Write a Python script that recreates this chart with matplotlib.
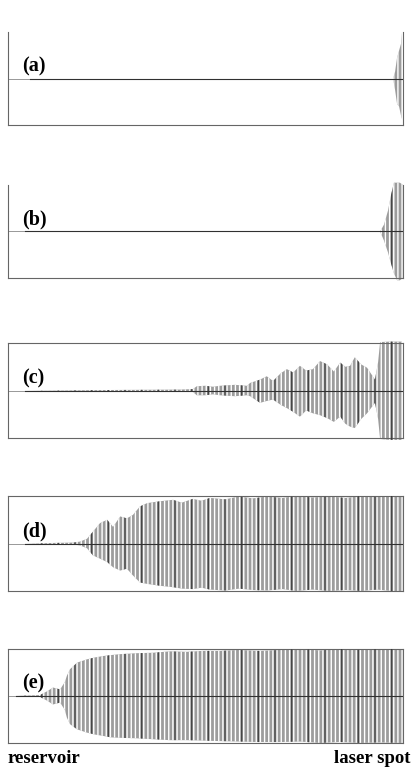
import matplotlib.pyplot as plt

# position along the channel (0 = reservoir, 100 = laser spot) and
# upper / lower envelope of the oscillation (in units of half panel height)

pos_a = [5.6, 97.5, 98.0, 98.5, 99.0, 99.5, 99.7]
up_a = [0.0, 0.0, 0.15, 0.45, 0.6, 0.75, 0.98]
lo_a = [0.0, 0.0, -0.25, -0.55, -0.6, -0.8, -0.87]

pos_b = [4.3, 94.2, 95.2, 96.2, 97.0, 97.7, 98.5, 99.2, 100.0]
up_b = [0.0, 0.0, 0.15, 0.45, 0.8, 1.05, 1.05, 1.05, 1.0]
lo_b = [0.0, 0.0, -0.2, -0.45, -0.7, -0.9, -1.05, -1.05, -1.0]

pos_c = [4.3, 43.5, 46.8, 47.8, 49.9, 51.9, 53.7, 57.4, 60.5, 61.3, 63.8,
         65.5, 67.1, 69.0, 70.6, 72.2, 73.9, 75.5, 77.2, 79.0, 80.8, 82.5,
         84.1, 85.4, 86.6, 87.8, 89.4, 90.9, 92.9, 93.7, 94.2, 96.7, 99.7]
up_c = [0.0, 0.02, 0.03, 0.09, 0.1, 0.08, 0.1, 0.12, 0.1, 0.16, 0.23,
        0.3, 0.2, 0.36, 0.45, 0.38, 0.52, 0.42, 0.45, 0.62, 0.55, 0.4,
        0.59, 0.5, 0.52, 0.7, 0.55, 0.48, 0.23, 0.6, 1.02, 1.03, 1.03]
lo_c = [0.0, -0.02, -0.03, -0.1, -0.1, -0.08, -0.1, -0.12, -0.1, -0.12, -0.26,
        -0.22, -0.19, -0.3, -0.37, -0.45, -0.55, -0.42, -0.48, -0.52, -0.58, -0.66,
        -0.55, -0.7, -0.76, -0.79, -0.6, -0.48, -0.26, -0.6, -1.02, -1.04, -1.04]

pos_d = [4.3, 16.5, 18.2, 20.0, 21.5, 23.3, 25.1, 26.6, 28.4, 30.1, 31.6,
         33.4, 35.2, 38.5, 41.8, 44.0, 46.8, 49.0, 51.1, 55.0, 58.5, 62.0,
         65.6, 69.5, 73.0, 77.0, 81.5, 85.5, 89.5, 93.5, 97.0, 100.0]
up_d = [0.0, 0.02, 0.04, 0.1, 0.25, 0.43, 0.5, 0.35, 0.57, 0.53, 0.6,
        0.78, 0.85, 0.89, 0.92, 0.86, 0.94, 0.9, 0.96, 0.93, 0.99, 0.95,
        0.99, 0.96, 1.0, 0.97, 0.99, 0.96, 1.0, 0.98, 1.0, 1.0]
lo_d = [0.0, -0.02, -0.04, -0.1, -0.25, -0.32, -0.39, -0.5, -0.57, -0.53, -0.67,
        -0.82, -0.85, -0.89, -0.92, -0.95, -0.96, -0.93, -0.97, -0.99, -0.95, -0.98,
        -0.99, -0.96, -1.0, -0.97, -1.0, -0.98, -1.0, -0.97, -1.0, -1.0]

pos_e = [2.0, 8.1, 9.9, 11.4, 13.2, 14.4, 14.9, 15.7, 17.5, 20.0, 22.0,
         24.1, 26.0, 28.4, 32.5, 36.7, 41.0, 45.3, 49.5, 53.7, 58.5, 63.5,
         68.9, 74.0, 79.0, 84.0, 89.0, 94.0, 100.0]
up_e = [0.0, 0.02, 0.1, 0.18, 0.14, 0.3, 0.43, 0.57, 0.71, 0.78, 0.82,
        0.85, 0.87, 0.89, 0.91, 0.92, 0.95, 0.94, 0.96, 0.96, 0.98, 0.96,
        0.98, 1.0, 0.97, 1.0, 0.98, 1.0, 1.0]
lo_e = [0.0, -0.02, -0.1, -0.18, -0.14, -0.3, -0.46, -0.6, -0.71, -0.78, -0.82,
        -0.85, -0.88, -0.89, -0.9, -0.92, -0.94, -0.94, -0.95, -0.96, -0.97, -0.98,
        -0.98, -0.97, -1.0, -0.98, -1.0, -0.99, -1.0]

panels = [('(a)', pos_a, up_a, lo_a),
          ('(b)', pos_b, up_b, lo_b),
          ('(c)', pos_c, up_c, lo_c),
          ('(d)', pos_d, up_d, lo_d),
          ('(e)', pos_e, up_e, lo_e)]

# axes boxes in figure fraction: bottom, height
boxes = [(0.8387, 0.120), (0.6413, 0.120), (0.4348, 0.1226),
         (0.2374, 0.1226), (0.0413, 0.1213)]

plt.rcParams['hatch.linewidth'] = 1.0
serif = ['Liberation Serif', 'DejaVu Serif']

fig = plt.figure(figsize=(4.15, 7.75), dpi=100)

for i, (label, pos, up, lo) in enumerate(panels):
    bottom, height = boxes[i]
    ax = fig.add_axes([0.0193, bottom, 0.9518, height])
    ax.set_xlim(0, 100)
    ax.set_ylim(-1, 1)
    ax.set_xticks([])
    ax.set_yticks([])
    for side in ax.spines:
        ax.spines[side].set_color('#666666')
        ax.spines[side].set_linewidth(0.8)
    if i < 2:
        ax.spines['top'].set_visible(False)

    # thin axis line through the middle
    ax.axhline(0, color='#888888', lw=0.6, zorder=1)

    # oscillation: gray stripes with white gaps
    ax.fill_between(pos, lo, up, facecolor='#9c9c9c', edgecolor='white',
                    hatch='||||', linewidth=0, clip_on=False, zorder=2)
    # a few darker stripes
    ax.fill_between(pos, lo, up, facecolor='none', edgecolor='#2a2a2a',
                    hatch='|', linewidth=0, alpha=0.75, clip_on=False, zorder=3)
    # baseline of the signal
    ax.plot([pos[0], 100], [0, 0], color='#303030', lw=0.8, zorder=4)

    ax.text(0.035, 0.63, label, transform=ax.transAxes, ha='left', va='center',
            fontsize=14.5, fontweight='bold', family=serif, zorder=5)

fig.text(0.017, 0.021, 'reservoir', ha='left', va='center',
         fontsize=13.5, fontweight='bold', family=serif)
fig.text(0.99, 0.021, 'laser spot', ha='right', va='center',
         fontsize=13.5, fontweight='bold', family=serif)

fig.savefig('out.png', dpi=100)
